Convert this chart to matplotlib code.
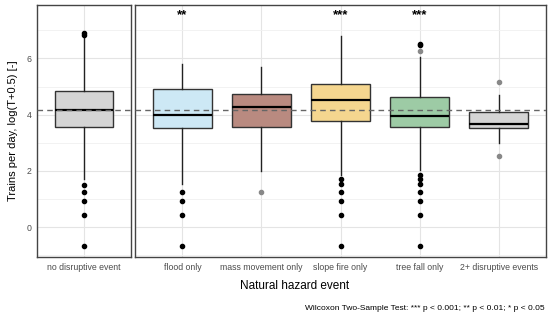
import matplotlib.pyplot as plt
import numpy as np

plt.rcParams['font.family'] = ['Liberation Sans', 'DejaVu Sans']

# box statistics: q1, median, q3, whisker low, whisker high
ref_label = "no disruptive event"
ref_stats = [3.57, 4.18, 4.85, 1.70, 6.80]
ref_out_black = [6.90, 6.85, 1.50, 1.25, 0.92, 0.42, -0.68]

cats = ["flood only", "mass movement only", "slope fire only", "tree fall only", "2+ disruptive events"]
q1 = [3.51, 3.58, 3.79, 3.56, 3.54]
med = [3.99, 4.27, 4.53, 3.97, 3.66]
q3 = [4.90, 4.75, 5.08, 4.62, 4.11]
wlo = [1.52, 2.01, 1.87, 2.05, 3.01]
whi = [5.80, 5.68, 6.80, 6.05, 4.71]
out_black = [[1.26, 0.93, 0.42, -0.66],
             [],
             [1.72, 1.52, 1.26, 0.93, 0.42, -0.66],
             [6.53, 6.47, 1.87, 1.70, 1.52, 1.26, 0.93, 0.42, -0.66],
             []]
out_grey = [[], [1.26], [], [6.27], [5.18, 2.53]]
stars = ["**", "", "***", "***", ""]
colors = ["#cde8f5", "#b98a80", "#f5d68f", "#9dcba5", "#d5d5d5"]
ref_color = "#d5d5d5"
ref_line = 4.18

def stats(label, s):
    return dict(label=label, q1=s[0], med=s[1], q3=s[2], whislo=s[3], whishi=s[4], fliers=[])

fig = plt.figure(figsize=(5.5, 3.23), dpi=100)
ax1 = fig.add_axes([37/550, 1-257/323, 94/550, 252/323])
ax2 = fig.add_axes([135/550, 1-257/323, 411/550, 252/323], sharey=ax1)

bprops = dict(widths=0.75, patch_artist=True, showfliers=False,
              medianprops=dict(color="black", lw=1.6),
              whiskerprops=dict(color="#222222", lw=1),
              capprops=dict(lw=0),
              boxprops=dict(edgecolor="#333333", lw=1))

b1 = ax1.bxp([stats(ref_label, ref_stats)], positions=[1], **bprops)
b1["boxes"][0].set_facecolor(ref_color)
ax1.scatter([1]*len(ref_out_black), ref_out_black, s=9, color="black", zorder=3)

b2 = ax2.bxp([stats(c, [q1[i], med[i], q3[i], wlo[i], whi[i]]) for i, c in enumerate(cats)],
             positions=range(1, 6), **bprops)
for i, box in enumerate(b2["boxes"]):
    box.set_facecolor(colors[i])
    ax2.scatter([i+1]*len(out_black[i]), out_black[i], s=9, color="black", zorder=3)
    ax2.scatter([i+1]*len(out_grey[i]), out_grey[i], s=9, color="#888888", zorder=3)
    if stars[i]:
        ax2.text(i+1, 7.55, stars[i], ha="center", va="center", fontsize=9.5, fontweight="bold")

for ax, n in [(ax1, 1), (ax2, 5)]:
    ax.set_xlim(0.4, n + 0.6)
    ax.set_ylim(-1.06, 7.9)
    ax.axhline(ref_line, color="#666666", ls=(0, (4, 3)), lw=1, zorder=4)
    ax.set_yticks([0, 2, 4, 6])
    ax.set_yticks([-1, 1, 3, 5, 7], minor=True)
    ax.grid(True, which="major", color="#e4e4e4", lw=0.8)
    ax.grid(True, which="minor", axis="y", color="#f0f0f0", lw=0.6)
    ax.set_axisbelow(True)
    for sp in ax.spines.values():
        sp.set_color("#444444")
        sp.set_linewidth(1)
    ax.tick_params(axis="both", which="both", length=0, labelsize=6.3, labelcolor="#4d4d4d", pad=4)

ax2.tick_params(axis="y", labelleft=False)
ax1.set_ylabel("Trains per day, log(T+0.5) [-]", fontsize=8, labelpad=6)
fig.text(0.535, 1-286/323, "Natural hazard event", ha="center", va="center", fontsize=8.5)
fig.text(0.99, 1-309/323, "Wilcoxon Two-Sample Test: *** p < 0.001; ** p < 0.01; * p < 0.05",
         ha="right", va="center", fontsize=6)

fig.savefig("out.png", dpi=100)
